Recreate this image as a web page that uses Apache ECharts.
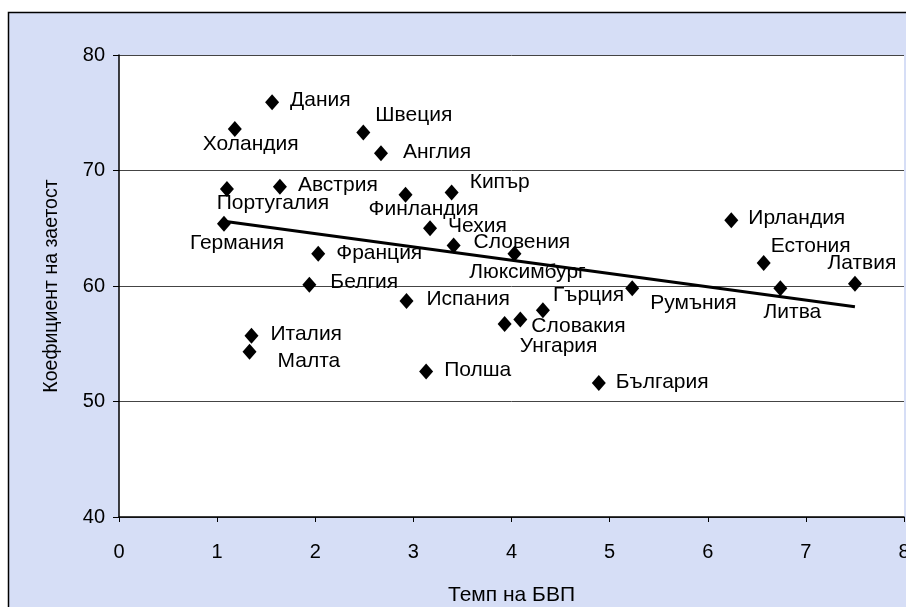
<!DOCTYPE html>
<html>
<head>
<meta charset="utf-8">
<script src="https://cdn.jsdelivr.net/npm/echarts@6/dist/echarts.min.js"></script>
<style>
  html, body { margin: 0; padding: 0; background: #fff; }
  #main { width: 906px; height: 607px; }
</style>
</head>
<body>
<div id="main"></div>
<script>
// countries, GDP growth (x) and employment rate (y)
let countries = ['Дания', 'Холандия', 'Швеция', 'Англия', 'Португалия', 'Австрия', 'Германия', 'Франция', 'Белгия',
  'Финландия', 'Кипър', 'Чехия', 'Словения', 'Люксимбург', 'Испания', 'Унгария', 'Словакия', 'Гърция',
  'Румъния', 'Ирландия', 'Естония', 'Литва', 'Латвия', 'Италия', 'Малта', 'Полша', 'България'];
let gdpGrowth = [1.56, 1.18, 2.49, 2.67, 1.10, 1.64, 1.07, 2.03, 1.94,
  2.92, 3.39, 3.17, 3.41, 4.03, 2.93, 3.93, 4.09, 4.32,
  5.23, 6.24, 6.57, 6.74, 7.50, 1.35, 1.33, 3.13, 4.89];
let employment = [75.9, 73.6, 73.3, 71.5, 68.4, 68.6, 65.4, 62.8, 60.1,
  67.9, 68.1, 65.0, 63.5, 62.8, 58.7, 56.7, 57.1, 57.9,
  59.8, 65.7, 62.0, 59.8, 60.2, 55.7, 54.3, 52.6, 51.6];

// linear trend line end points
let trendX = [1.07, 7.5];
let trendY = [65.6, 58.2];

// label placement: [align, dx, dy] from the marker centre
let labelPos = {
  'Дания': ['left', 18, -2], 'Холандия': ['center', 16, 15], 'Швеция': ['left', 12, -17],
  'Англия': ['left', 22, -1], 'Португалия': ['center', 46, 14], 'Австрия': ['left', 18, -1],
  'Германия': ['center', 13, 20], 'Франция': ['left', 18, 0], 'Белгия': ['left', 21, -3],
  'Финландия': ['center', 18, 14], 'Кипър': ['left', 18, -10], 'Чехия': ['left', 18, -2],
  'Словения': ['left', 20, -3], 'Люксимбург': ['center', 13, 19], 'Испания': ['left', 20, -2],
  'Унгария': ['center', 54, 22], 'Словакия': ['left', 11, 7], 'Гърция': ['left', 10, -15],
  'Румъния': ['left', 18, 15], 'Ирландия': ['left', 17, -2], 'Естония': ['left', 7, -17],
  'Литва': ['center', 12, 24], 'Латвия': ['center', 7, -20], 'Италия': ['left', 19, -1],
  'Малта': ['left', 28, 9], 'Полша': ['left', 18, -1], 'България': ['left', 17, -1]
};

let font = "'Liberation Sans', Arial, sans-serif";

let points = countries.map(function (c, i) {
  let p = labelPos[c];
  return {
    name: c,
    value: [gdpGrowth[i], employment[i]],
    label: { align: p[0], offset: [p[1], p[2]] }
  };
});

let chart = echarts.init(document.getElementById('main'));

let option = {
  backgroundColor: '#fff',
  animation: false,
  graphic: [{
    type: 'rect',
    shape: { x: 8.5, y: 12.5, width: 910, height: 610 },
    style: { fill: '#D6DEF6', stroke: '#000', lineWidth: 1.5 },
    z: -10
  }],
  grid: {
    left: 119, right: 2, top: 55, bottom: 90,
    outerBoundsMode: 'none', containLabel: false,
    show: true, backgroundColor: '#fff', borderWidth: 0
  },
  xAxis: {
    type: 'value', min: 0, max: 8, interval: 1,
    name: 'Темп на БВП', nameLocation: 'middle', nameGap: 68,
    nameTextStyle: { fontFamily: font, fontSize: 21, color: '#000' },
    axisLine: { lineStyle: { color: '#000', width: 1.5 } },
    axisTick: { show: true, length: 5, lineStyle: { color: '#000' } },
    axisLabel: { fontFamily: font, fontSize: 20, color: '#000', margin: 25 },
    splitLine: { show: false }
  },
  yAxis: {
    type: 'value', min: 40, max: 80, interval: 10,
    name: 'Коефициент на заетост', nameLocation: 'middle', nameGap: 57,
    nameTextStyle: { fontFamily: font, fontSize: 19.5, color: '#000' },
    axisLine: { show: true, lineStyle: { color: '#000', width: 1.5 } },
    axisTick: { show: true, length: 6, lineStyle: { color: '#000' } },
    axisLabel: { fontFamily: font, fontSize: 20, color: '#000', margin: 14 },
    splitLine: { show: true, lineStyle: { color: '#444', width: 1 } }
  },
  series: [{
    type: 'scatter',
    symbol: 'diamond',
    symbolSize: [14, 16],
    itemStyle: { color: '#000', opacity: 1 },
    data: points,
    label: {
      show: true,
      position: 'inside',
      formatter: '{b}',
      fontFamily: font,
      fontSize: 21,
      color: '#000'
    },
    z: 3
  }, {
    type: 'line',
    data: trendX.map(function (x, i) { return [x, trendY[i]]; }),
    symbol: 'none',
    lineStyle: { color: '#000', width: 3 },
    z: 2
  }]
};

chart.setOption(option);
</script>
</body>
</html>
